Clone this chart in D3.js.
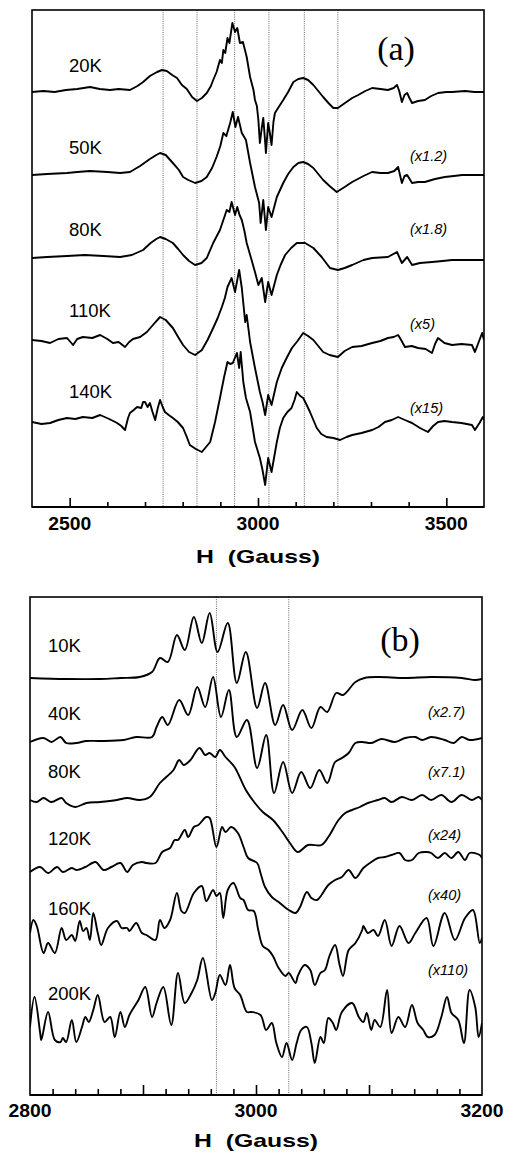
<!DOCTYPE html>
<html><head><meta charset="utf-8">
<script src="https://cdn.jsdelivr.net/npm/d3@7"></script>
<style>
html,body{margin:0;padding:0;background:#fff;}
svg{display:block;}
text{font-family:"Liberation Sans",Arial,Helvetica,sans-serif;fill:#000;}
</style></head><body>
<svg id="fig" width="505" height="1158"></svg>
<script>
// ---------- Panel (a): ESR derivative spectra, field in gauss vs signal (arb. units) ----------
const tempsA = ["20K", "50K", "80K", "110K", "140K"];
const gainsA = ["", "(x1.2)", "(x1.8)", "(x5)", "(x15)"];
const ticksMajorA = [2500, 3000, 3500];
const ticksMinorA = [2600, 2700, 2800, 2900, 3100, 3200, 3300, 3400];
const guidesA = [2748, 2838, 2938, 3029, 3123, 3212];

const a20K = [[2400,0],[2430,1],[2460,0],[2490,2],[2520,3],[2554,5],[2580,3],[2607,2],[2630,3],[2660,2],[2680,6],[2695,10],[2713,16],[2732,20],[2745,22],[2758,21],[2772,17],[2785,14],[2798,7],[2811,3],[2825,-5],[2838,-9],[2851,-6],[2864,-1],[2875,6],[2881,12],[2890,20],[2899,32],[2904,29],[2908,42],[2913,39],[2919,54],[2924,49],[2932,69],[2939,60],[2945,64],[2952,49],[2960,50],[2970,35],[2979,15],[2988,2],[2992,-8],[2997,-14],[3001,-28],[3005,-51],[3010,-36],[3014,-26],[3018,-45],[3021,-61],[3027,-31],[3031,-40],[3036,-53],[3041,-30],[3045,-21],[3055,-15],[3067,-8],[3080,0],[3094,10],[3107,13],[3120,14],[3133,12],[3147,7],[3160,1],[3173,-5],[3187,-11],[3200,-16],[3212,-16],[3231,-11],[3250,-6],[3266,-3],[3285,1],[3303,4],[3325,3],[3345,2],[3360,4],[3369,7],[3375,1],[3382,-10],[3389,-3],[3396,-1],[3402,-6],[3409,-11],[3425,-9],[3443,-8],[3460,-4],[3478,-1],[3500,0],[3515,0],[3550,1],[3575,0],[3600,0]];
const a50K = [[2400,-1],[2440,0],[2493,1],[2520,2],[2554,3],[2600,2],[2634,1],[2660,2],[2687,8],[2713,15],[2730,19],[2740,21],[2755,19],[2774,11],[2790,4],[2801,-3],[2815,-6],[2833,-9],[2850,-7],[2864,-3],[2878,6],[2890,17],[2900,28],[2908,41],[2916,38],[2926,51],[2933,62],[2940,47],[2947,57],[2957,41],[2968,34],[2979,11],[2992,-13],[3003,-29],[3007,-49],[3014,-26],[3021,-56],[3027,-33],[3036,-43],[3050,-23],[3067,-9],[3080,0],[3094,7],[3107,11],[3120,12],[3133,10],[3147,6],[3160,0],[3173,-6],[3190,-12],[3209,-18],[3230,-13],[3250,-8],[3280,-2],[3303,2],[3325,1],[3345,1],[3362,3],[3372,7],[3382,-9],[3389,-2],[3396,-1],[3409,-9],[3425,-8],[3443,-8],[3470,-5],[3496,-3],[3520,-2],[3542,-1],[3570,-1],[3600,-1]];
const a80K = [[2400,-1],[2440,0],[2493,1],[2540,2],[2590,1],[2634,0],[2665,2],[2695,7],[2715,14],[2730,18],[2740,20],[2755,18],[2774,14],[2788,8],[2801,2],[2817,-4],[2833,-8],[2850,-6],[2864,-1],[2881,14],[2899,27],[2908,37],[2917,47],[2924,45],[2930,55],[2939,42],[2945,50],[2951,42],[2957,37],[2964,26],[2970,14],[2983,-3],[2992,-15],[3001,-28],[3010,-21],[3019,-45],[3027,-25],[3036,-38],[3050,-18],[3060,-8],[3072,2],[3088,9],[3103,14],[3125,14],[3147,9],[3169,0],[3191,-11],[3212,-13],[3230,-11],[3250,-8],[3280,-3],[3303,-1],[3345,0],[3369,5],[3382,-6],[3396,0],[3409,-8],[3430,-6],[3462,-5],[3490,-4],[3515,-3],[3560,-3],[3600,-3]];
const a110K = [[2400,0],[2425,-1],[2448,-3],[2470,1],[2493,2],[2509,-5],[2520,1],[2535,3],[2560,2],[2581,5],[2600,1],[2615,-3],[2630,-2],[2647,-7],[2658,-2],[2668,1],[2687,3],[2705,8],[2721,15],[2740,23],[2755,20],[2774,12],[2788,3],[2801,-5],[2817,-12],[2833,-15],[2851,-10],[2866,0],[2881,12],[2893,22],[2904,33],[2912,42],[2919,53],[2930,62],[2939,48],[2950,70],[2957,52],[2966,18],[2970,25],[2979,-2],[2992,-28],[3005,-52],[3012,-62],[3019,-75],[3027,-55],[3036,-65],[3050,-42],[3063,-28],[3076,-18],[3090,-8],[3103,-2],[3120,7],[3133,4],[3147,0],[3160,-6],[3173,-12],[3190,-15],[3212,-17],[3230,-11],[3250,-7],[3275,-6],[3303,-3],[3325,-1],[3345,2],[3360,3],[3372,5],[3380,0],[3390,-7],[3408,-6],[3425,-8],[3445,-9],[3462,-13],[3470,-4],[3478,2],[3495,-3],[3515,-5],[3540,-4],[3568,-5],[3576,-12],[3585,-3],[3595,7],[3600,0]];
const a140K = [[2400,0],[2425,-2],[2448,-1],[2470,2],[2493,4],[2515,3],[2535,5],[2560,4],[2581,7],[2605,3],[2626,-1],[2637,-4],[2647,-8],[2655,4],[2660,9],[2670,12],[2679,15],[2690,14],[2695,20],[2700,20],[2707,15],[2713,19],[2720,10],[2727,2],[2734,14],[2740,22],[2747,15],[2753,10],[2763,7],[2774,4],[2787,0],[2801,-6],[2810,-14],[2819,-23],[2835,-27],[2851,-30],[2862,-25],[2873,-20],[2886,0],[2899,24],[2910,45],[2919,60],[2926,58],[2933,59],[2944,69],[2950,54],[2954,70],[2961,40],[2968,24],[2979,10],[2992,-20],[3005,-36],[3012,-48],[3019,-63],[3027,-36],[3036,-50],[3050,-20],[3058,-6],[3067,4],[3078,10],[3089,14],[3097,22],[3103,30],[3112,26],[3120,24],[3128,18],[3138,10],[3147,2],[3156,-6],[3168,-12],[3182,-15],[3200,-16],[3218,-18],[3235,-15],[3250,-13],[3275,-11],[3303,-8],[3320,-5],[3337,0],[3355,2],[3372,5],[3390,2],[3409,-1],[3430,-6],[3451,-10],[3465,-4],[3478,0],[3495,1],[3515,0],[3540,-1],[3568,-3],[3576,-8],[3588,-1],[3597,5],[3600,2]];
const offsetsA = [330, 248, 165, 82, 0];

// ---------- Panel (b) ----------
const tempsB = ["10K", "40K", "80K", "120K", "160K", "200K"];
const gainsB = ["", "(x2.7)", "(x7.1)", "(x24)", "(x40)", "(x110)"];
const ticksMajorB = [2900, 3000, 3100];
const ticksMinorB = [2820, 2840, 2860, 2880, 2920, 2940, 2960, 2980, 3020, 3040, 3060, 3080, 3120, 3140, 3160, 3180];
const guidesB = [2965, 3029];

const b10K = [[2800,0],[2832,-1],[2862,-1],[2880,0],[2897,1],[2908,6],[2915,20],[2922,16],[2930,43],[2937,28],[2945,61],[2952,35],[2959,65],[2966,26],[2975,55],[2983,-5],[2991,26],[3001,-30],[3008,-5],[3017,-47],[3024,-27],[3032,-52],[3041,-32],[3049,-50],[3057,-29],[3063,-34],[3071,-15],[3077,-17],[3088,-4],[3096,0],[3108,1],[3132,0],[3155,1],[3182,0],[3194,-2],[3200,-1]];
const b40K = [[2800,0],[2812,4],[2819,0],[2827,5],[2832,-1],[2841,-1],[2850,1],[2862,1],[2883,2],[2894,5],[2908,5],[2912,15],[2917,25],[2922,17],[2932,42],[2940,27],[2948,55],[2955,35],[2962,65],[2969,25],[2976,52],[2983,5],[2992,22],[3001,-26],[3009,7],[3016,-51],[3024,-20],[3032,-51],[3040,-30],[3048,-46],[3056,-28],[3063,-41],[3070,-20],[3076,-16],[3082,-11],[3088,-1],[3094,0],[3102,-1],[3111,3],[3123,0],[3132,4],[3141,5],[3147,2],[3155,5],[3167,2],[3175,-1],[3182,5],[3189,2],[3200,4]];
const b80K = [[2800,0],[2806,-2],[2812,2],[2819,-2],[2828,2],[2832,-3],[2840,-7],[2850,-3],[2862,-2],[2877,0],[2886,2],[2897,0],[2906,3],[2915,17],[2927,30],[2932,40],[2936,35],[2942,40],[2950,52],[2955,45],[2959,47],[2964,43],[2968,50],[2973,43],[2981,33],[2991,10],[2999,-3],[3006,-12],[3015,-20],[3024,-33],[3030,-43],[3037,-52],[3046,-45],[3058,-45],[3064,-37],[3073,-20],[3079,-13],[3085,-10],[3092,-7],[3099,-3],[3108,0],[3114,2],[3120,-2],[3129,3],[3138,0],[3147,5],[3155,0],[3164,5],[3173,-2],[3182,5],[3191,0],[3197,3],[3200,0]];
const b120K = [[2800,-2],[2809,3],[2816,-3],[2824,3],[2829,-2],[2837,2],[2841,0],[2849,3],[2858,8],[2865,0],[2872,3],[2880,7],[2886,-2],[2891,5],[2899,8],[2903,7],[2911,7],[2917,18],[2924,22],[2928,30],[2931,30],[2937,40],[2940,33],[2945,43],[2949,45],[2956,53],[2959,52],[2965,23],[2970,43],[2973,38],[2978,43],[2984,37],[2989,23],[2993,12],[3001,7],[3004,-3],[3008,-17],[3014,-27],[3020,-32],[3029,-40],[3035,-43],[3039,-37],[3045,-22],[3049,-28],[3054,-30],[3058,-25],[3064,-15],[3070,-10],[3076,-7],[3082,0],[3088,-8],[3095,2],[3102,8],[3108,12],[3114,13],[3120,15],[3127,17],[3132,10],[3138,10],[3144,17],[3151,18],[3155,17],[3161,12],[3167,17],[3173,12],[3179,18],[3185,10],[3189,17],[3198,15],[3200,12]];
const b160K = [[2800,0],[2803,13],[2806,7],[2812,-20],[2816,-10],[2822,-20],[2828,5],[2832,-7],[2837,-2],[2840,-8],[2844,12],[2847,2],[2850,5],[2853,-7],[2856,20],[2860,0],[2863,-12],[2869,5],[2877,12],[2881,5],[2886,5],[2888,2],[2894,10],[2899,0],[2903,-2],[2911,-7],[2915,13],[2919,5],[2924,13],[2930,40],[2934,22],[2937,20],[2945,40],[2952,47],[2956,32],[2962,43],[2965,37],[2968,40],[2971,15],[2975,43],[2980,50],[2986,35],[2989,33],[2993,23],[2998,22],[3002,3],[3006,-13],[3011,-17],[3015,-23],[3020,-35],[3026,-43],[3029,-40],[3035,-50],[3037,-43],[3043,-32],[3048,-37],[3052,-52],[3057,-40],[3061,-37],[3065,-23],[3070,-12],[3074,-32],[3077,-43],[3082,-17],[3088,-10],[3094,3],[3095,7],[3099,0],[3104,3],[3108,-3],[3114,13],[3120,-13],[3127,7],[3135,-10],[3141,0],[3151,15],[3157,-13],[3167,20],[3176,-7],[3185,15],[3192,23],[3198,-10],[3200,-5]];
const b200K = [[2800,0],[2804,30],[2809,-6],[2810,-13],[2816,15],[2822,-13],[2827,-15],[2829,-11],[2832,-15],[2837,7],[2841,-15],[2846,0],[2849,10],[2852,5],[2856,17],[2860,32],[2866,5],[2871,10],[2875,-10],[2880,15],[2884,0],[2888,12],[2896,27],[2902,40],[2908,10],[2912,24],[2918,40],[2925,2],[2931,54],[2937,24],[2943,34],[2948,47],[2953,69],[2961,27],[2964,34],[2968,52],[2973,42],[2977,62],[2981,39],[2986,32],[2992,15],[2996,15],[3004,12],[3009,-3],[3014,4],[3018,-16],[3023,-30],[3027,-16],[3032,-33],[3036,-16],[3040,-3],[3045,0],[3049,-16],[3052,-36],[3057,-10],[3060,-16],[3064,9],[3068,4],[3071,-3],[3076,15],[3085,24],[3091,10],[3095,5],[3098,14],[3102,-3],[3105,7],[3110,0],[3116,37],[3120,-6],[3126,10],[3132,0],[3138,22],[3143,4],[3148,-3],[3152,-10],[3158,-8],[3164,10],[3169,30],[3173,14],[3179,7],[3184,-16],[3189,37],[3194,20],[3197,-10],[3200,4]];
const offsetsB = [349, 285, 227, 157, 94, 0];

const svg = d3.select("#fig");

function drawPanel(p) {
  const x = d3.scaleLinear().domain(p.field).range([p.left, p.right]);
  const y = d3.scaleLinear().domain(p.yDomain).range([p.bottom, p.top]);
  const g = svg.append("g");

  const clipId = "clip-" + p.name;
  svg.append("clipPath").attr("id", clipId).append("rect")
    .attr("x", p.left).attr("y", p.top)
    .attr("width", p.right - p.left).attr("height", p.bottom - p.top);

  // dotted guide lines at the hyperfine positions
  g.selectAll("line.guide").data(p.guides).join("line")
    .attr("class", "guide")
    .attr("x1", d => x(d)).attr("x2", d => x(d))
    .attr("y1", p.top).attr("y2", p.bottom)
    .attr("stroke", "#555").attr("stroke-width", 0.9)
    .attr("stroke-dasharray", "1,1.2");

  // spectra
  const line = d3.line()
    .x(d => x(d[0]))
    .curve(p.curve);
  g.append("g").attr("clip-path", `url(#${clipId})`)
    .selectAll("path.trace").data(p.series).join("path")
    .attr("class", "trace")
    .attr("d", (s, i) => line.y(d => y(d[1] + p.offsets[i]))(s))
    .attr("fill", "none").attr("stroke", "#000")
    .attr("stroke-width", 1.9).attr("stroke-linejoin", "round");

  // frame
  g.append("rect")
    .attr("x", p.left).attr("y", p.top)
    .attr("width", p.right - p.left).attr("height", p.bottom - p.top)
    .attr("fill", "none").attr("stroke", "#000").attr("stroke-width", 1.6);

  // inward ticks on the field axis
  const axMajor = d3.axisTop(x).tickValues(p.major).tickSize(p.majorLen).tickFormat("");
  const axMinor = d3.axisTop(x).tickValues(p.minor).tickSize(p.minorLen).tickFormat("");
  [axMajor, axMinor].forEach(ax => {
    const a = g.append("g").attr("transform", `translate(0,${p.bottom})`).call(ax);
    a.select(".domain").remove();
    a.selectAll("line").attr("stroke", "#000").attr("stroke-width", 1.6);
  });
  g.append("line").attr("x1", p.left).attr("x2", p.right)
    .attr("y1", p.bottom).attr("y2", p.bottom)
    .attr("stroke", "#000").attr("stroke-width", 2.2);

  // tick labels
  g.selectAll("text.tick").data(p.labelTicks).join("text")
    .attr("x", d => x(d)).attr("y", p.bottom + p.tickLabelDy)
    .attr("text-anchor", "middle").attr("font-weight", "bold")
    .attr("font-size", 18).attr("textLength", 43).attr("lengthAdjust", "spacingAndGlyphs")
    .text(d => d);

  // axis title
  g.append("text")
    .attr("x", (p.left + p.right) / 2).attr("y", p.bottom + p.titleDy)
    .attr("text-anchor", "middle").attr("font-weight", "bold")
    .attr("font-size", 19).attr("textLength", 124).attr("lengthAdjust", "spacingAndGlyphs")
    .attr("xml:space", "preserve").text("H  (Gauss)");

  // temperature labels
  g.selectAll("text.temp").data(p.temps).join("text")
    .attr("x", p.tempX).attr("y", (d, i) => y(p.offsets[i]) - p.tempLift[i])
    .attr("font-size", 18.5).text(d => d);

  // gain factors
  g.selectAll("text.gain").data(p.gains).join("text")
    .attr("x", p.gainX).attr("y", (d, i) => y(p.offsets[i]) - p.gainLift[i])
    .attr("font-size", 14.5).attr("font-style", "italic").text(d => d);

  // panel tag
  g.append("text")
    .attr("x", p.tagX).attr("y", p.tagY)
    .attr("text-anchor", "middle")
    .style("font-family", '"Liberation Serif","Times New Roman",serif')
    .attr("font-size", 34).text(p.tag);
}

drawPanel({
  name: "a", field: [2400, 3600], left: 32, right: 484, top: 10, bottom: 507,
  yDomain: [-85, 412], series: [a20K, a50K, a80K, a110K, a140K], offsets: offsetsA,
  curve: d3.curveLinear, guides: guidesA,
  major: ticksMajorA, minor: ticksMinorA, majorLen: 9, minorLen: 5,
  labelTicks: ticksMajorA, tickLabelDy: 23, titleDy: 56,
  temps: tempsA, tempX: 69, tempLift: [20, 20, 21, 23, 24],
  gains: gainsA, gainX: 410, gainLift: [0, 13, 23, 11, 9],
  tag: "(a)", tagX: 396, tagY: 60
});

drawPanel({
  name: "b", field: [2800, 3200], left: 30, right: 482, top: 597, bottom: 1095,
  yDomain: [-68, 430], series: [b10K, b40K, b80K, b120K, b160K, b200K], offsets: offsetsB,
  curve: d3.curveCatmullRom.alpha(0.5), guides: guidesB,
  major: ticksMajorB, minor: ticksMinorB, majorLen: 10, minorLen: 6,
  labelTicks: [2800, 3000, 3200], tickLabelDy: 22, titleDy: 52,
  temps: tempsB, tempX: 48, tempLift: [26, 22, 22, 25, 18, 27],
  gains: gainsB, gainX: 428, gainLift: [0, 25, 23, 30, 33, 52],
  tag: "(b)", tagX: 400, tagY: 651
});
</script>
</body></html>
